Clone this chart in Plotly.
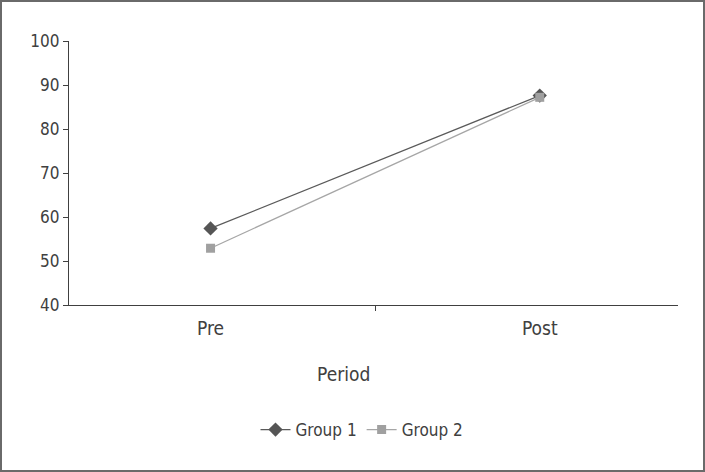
import plotly.graph_objects as go

periods = ["Pre", "Post"]
group1 = [57.4, 87.6]
group2 = [52.9, 87.2]
y_ticks = [40, 50, 60, 70, 80, 90, 100]

FONT = "DejaVu Sans Condensed, Liberation Sans Narrow, Arial Narrow, Liberation Sans, sans-serif"
TXT = "#404040"

W, H = 705, 472
L, R, T, B = 69, 27, 41, 167
pw, ph = W - L - R, H - T - B

fig = go.Figure()
fig.add_trace(go.Scatter(
    x=periods, y=group1, name="Group 1", mode="lines+markers",
    line=dict(color="#5a5a5a", width=1.3),
    marker=dict(symbol="diamond", size=11, color="#555555"),
))
fig.add_trace(go.Scatter(
    x=periods, y=group2, name="Group 2", mode="lines+markers",
    line=dict(color="#a6a6a6", width=1.3),
    marker=dict(symbol="square", size=9, color="#a0a0a0"),
))

def px_x(p):
    return (p - L) / pw

def px_y(p):
    return (H - B - p) / ph

fig.add_shape(type="rect", xref="paper", yref="paper",
              x0=px_x(1), x1=px_x(704), y0=px_y(471), y1=px_y(1),
              line=dict(color="#6a6a6a", width=2), fillcolor="rgba(0,0,0,0)")

fig.add_annotation(text="Period", xref="paper", yref="paper",
                   x=px_x(343), y=px_y(374), xanchor="center", yanchor="middle",
                   showarrow=False,
                   font=dict(family=FONT, size=19, color=TXT))

fig.update_layout(
    width=W, height=H,
    margin=dict(l=L, r=R, t=T, b=B, autoexpand=False),
    paper_bgcolor="white", plot_bgcolor="white",
    font=dict(family=FONT, color=TXT),
    showlegend=True,
    legend=dict(orientation="h", x=px_x(362), xanchor="center",
                y=px_y(430), yanchor="middle",
                font=dict(family=FONT, size=17, color=TXT),
                itemwidth=30, tracegroupgap=0),
    xaxis=dict(type="category", range=[-0.43, 1.42],
               showline=True, linecolor="#404040", linewidth=1.3,
               ticks="outside", tickson="boundaries", ticklen=5,
               tickcolor="#404040", showgrid=False, zeroline=False,
               ticklabelstandoff=6,
               tickfont=dict(family=FONT, size=19, color=TXT)),
    yaxis=dict(range=[40, 100], tickvals=y_ticks,
               showline=True, linecolor="#404040", linewidth=1.3,
               ticks="outside", ticklen=5, tickcolor="#404040",
               showgrid=False, zeroline=False,
               tickfont=dict(family=FONT, size=17, color=TXT)),
)

fig.write_html("out.html", config={"displayModeBar": False},
               post_script="document.body.style.margin='0';document.body.style.overflow='hidden';")
